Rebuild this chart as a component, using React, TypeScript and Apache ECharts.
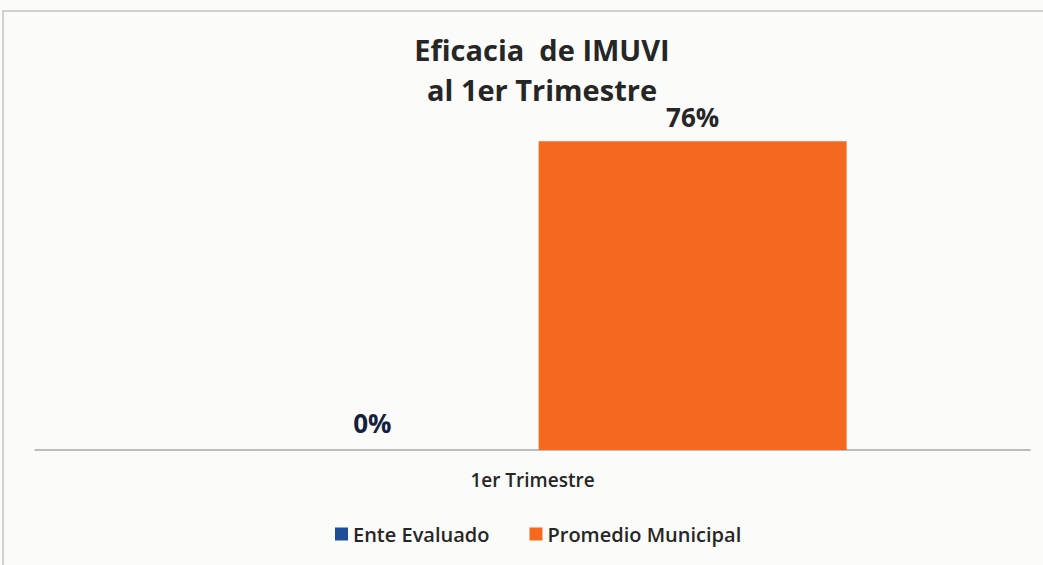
import React, { useEffect, useRef } from "react";
import * as echarts from "echarts";

const categories = ["1er Trimestre"];
const enteEvaluado = [0];
const promedioMunicipal = [76];
const titleLines = ["Eficacia  de IMUVI", "al 1er Trimestre"];

export default function App() {
  const ref = useRef<HTMLDivElement>(null);
  useEffect(() => {
    const chart = echarts.init(ref.current!, null, { renderer: "svg" });
    const font = "Open Sans";
    chart.setOption({
      animation: false,
      backgroundColor: "#fbfbfa",
      textStyle: { fontFamily: font },
      title: {
        text: titleLines.join("\n"),
        left: 537,
        textAlign: "center",
        top: 24,
        textStyle: { fontSize: 29, fontWeight: "bold", color: "#262626", lineHeight: 40, fontFamily: font },
      },
      graphic: [
        {
          type: "rect",
          shape: { x: 3, y: 11, width: 1045, height: 600 },
          style: { fill: "none", stroke: "#c4c4c4", lineWidth: 1.5 },
          silent: true,
        },
      ],
      legend: {
        bottom: 16,
        left: 330,
        itemWidth: 13,
        itemHeight: 13,
        itemGap: 40,
        icon: "rect",
        textStyle: { fontSize: 20, fontWeight: 600, color: "#262626", fontFamily: font },
        data: ["Ente Evaluado", "Promedio Municipal"],
      },
      grid: { left: 35, right: 13, top: 125, bottom: 115 },
      xAxis: {
        type: "category",
        data: categories,
        axisLine: { lineStyle: { color: "#a8a8a8", width: 1.5 } },
        axisTick: { show: false },
        axisLabel: { fontSize: 19, fontWeight: 600, color: "#262626", margin: 20 },
      },
      yAxis: { type: "value", min: 0, max: 80, show: false, splitLine: { show: false } },
      series: [
        {
          name: "Ente Evaluado",
          type: "bar",
          data: enteEvaluado,
          barWidth: 308,
          barGap: "4%",
          itemStyle: { color: "#1f4e99" },
          label: {
            show: true,
            position: "top",
            formatter: "{c}%",
            fontSize: 26,
            fontWeight: "bold",
            color: "#14213d",
            distance: 14,
          },
        },
        {
          name: "Promedio Municipal",
          type: "bar",
          data: promedioMunicipal,
          barWidth: 308,
          itemStyle: { color: "#f5691f" },
          label: {
            show: true,
            position: "top",
            formatter: "{c}%",
            fontSize: 26,
            fontWeight: "bold",
            color: "#262626",
            distance: 11,
          },
        },
      ],
    });
    return () => chart.dispose();
  }, []);
  return <div ref={ref} style={{ position: "fixed", left: 0, top: 0, width: 1043, height: 565 }} />;
}
